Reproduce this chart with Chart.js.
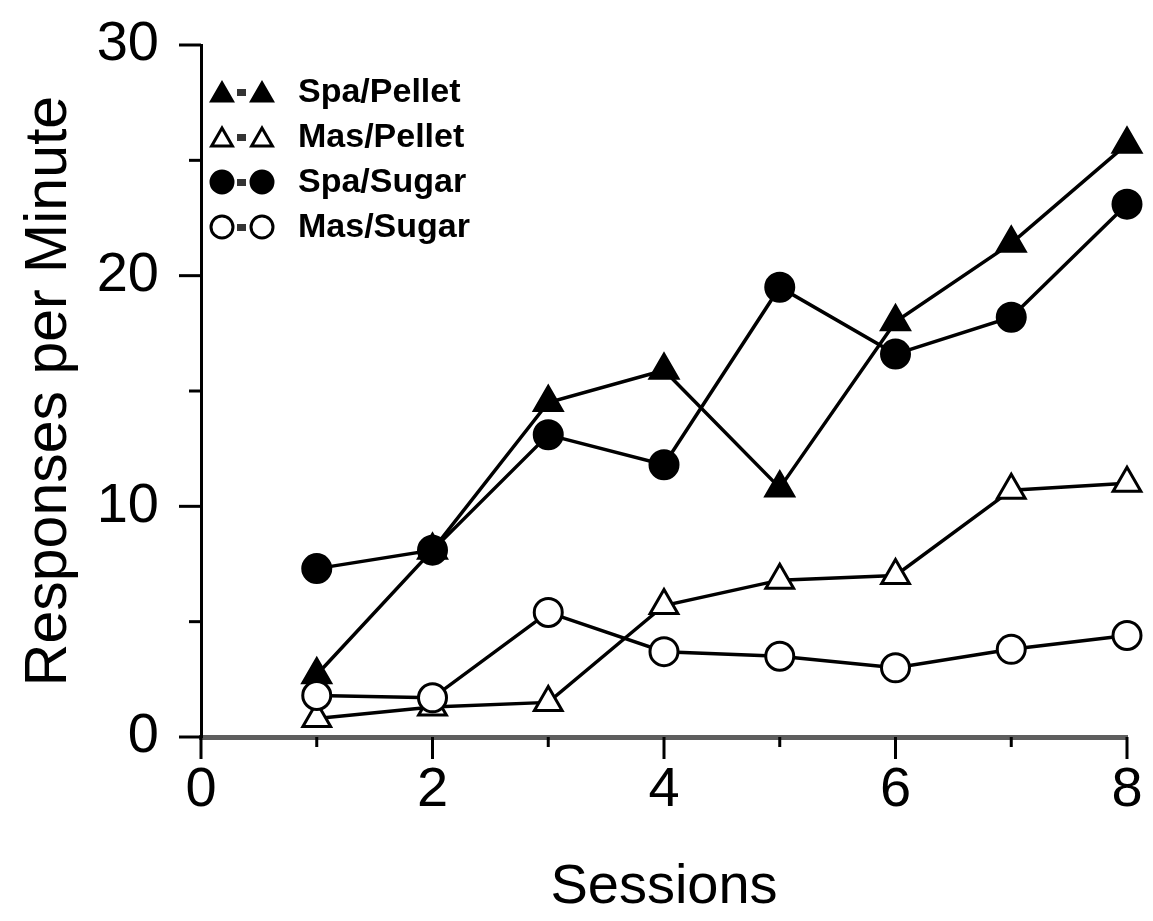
<!DOCTYPE html>
<html>
<head>
<meta charset="utf-8">
<script src="https://cdn.jsdelivr.net/npm/chart.js@4.4.0/dist/chart.umd.min.js"></script>
<style>
  html, body { margin: 0; padding: 0; background: #fff; }
  #wrap { width: 1153px; height: 921px; }
</style>
</head>
<body>
<div id="wrap"><canvas id="myChart"></canvas></div>
<script>
// values
const sessions = [1, 2, 3, 4, 5, 6, 7, 8];
const spaPellet = [2.7, 8.1, 14.5, 15.9, 10.8, 18.0, 21.4, 25.7];
const masPellet = [0.8, 1.3, 1.5, 5.7, 6.8, 7.0, 10.7, 11.0];
const spaSugar = [7.3, 8.1, 13.1, 11.8, 19.5, 16.6, 18.2, 23.1];
const masSugar = [1.8, 1.7, 5.4, 3.7, 3.5, 3.0, 3.8, 4.4];
const seriesNames = ['Spa/Pellet', 'Mas/Pellet', 'Spa/Sugar', 'Mas/Sugar'];
const xTickValues = [0, 1, 2, 3, 4, 5, 6, 7, 8];
const yTickValues = [0, 5, 10, 15, 20, 25, 30];

const FONT = "'Liberation Sans', Arial, sans-serif";

const toPoints = (vals) => sessions.map((s, i) => ({ x: s, y: vals[i] }));

function series(label, vals, style, filled, radius, order) {
    return {
        label: label,
        data: toPoints(vals),
        borderColor: '#000',
        borderWidth: 3.5,
        pointStyle: style,
        pointRadius: radius,
        pointHoverRadius: radius,
        pointBorderWidth: 3,
        pointBorderColor: '#000',
        pointBackgroundColor: filled ? '#000' : '#fff',
        tension: 0,
        clip: false,
        order: order
    };
}

const datasets = [
    series(seriesNames[0], spaPellet, 'triangle', true, 16, 3),
    series(seriesNames[1], masPellet, 'triangle', false, 16, 1),
    series(seriesNames[2], spaSugar, 'circle', true, 14, 2),
    series(seriesNames[3], masSugar, 'circle', false, 14, 0)
];

// tick marks: long at labelled values, short in between
const axisTicks = {
    id: 'axisTicks',
    afterDraw(chart) {
        const { ctx, scales: { x, y } } = chart;
        ctx.save();
        ctx.strokeStyle = '#000';
        ctx.lineWidth = 3;
        const left = x.getPixelForValue(0);
        const bottom = y.getPixelForValue(0);
        yTickValues.forEach(v => {
            const py = y.getPixelForValue(v);
            const len = v % 10 === 0 ? 22 : 12;
            ctx.beginPath();
            ctx.moveTo(left - len, py);
            ctx.lineTo(left, py);
            ctx.stroke();
        });
        xTickValues.forEach(v => {
            const px = x.getPixelForValue(v);
            const len = v % 2 === 0 ? 22 : 10;
            ctx.beginPath();
            ctx.moveTo(px, bottom);
            ctx.lineTo(px, bottom + len);
            ctx.stroke();
        });
        ctx.restore();
    }
};

// key in the upper left of the plot
const keyBox = {
    id: 'keyBox',
    afterDraw(chart) {
        const { ctx, chartArea } = chart;
        ctx.save();
        chart.data.datasets.forEach((ds, i) => {
            const cy = chartArea.top + 47 + i * 45;
            const x0 = chartArea.left + 21;
            const r = ds.pointStyle === 'triangle' ? 12 : 11;
            const opts = { pointStyle: ds.pointStyle, radius: r, borderWidth: 3, rotation: 0 };
            const dy = ds.pointStyle === 'triangle' ? 3 : 0;
            ctx.fillStyle = ds.pointBackgroundColor;
            ctx.strokeStyle = '#000';
            ctx.lineWidth = 3;
            Chart.helpers.drawPoint(ctx, opts, x0, cy + dy);
            ctx.fillStyle = '#333';
            ctx.fillRect(x0 + 15, cy - 3, 9, 7);
            ctx.fillStyle = ds.pointBackgroundColor;
            Chart.helpers.drawPoint(ctx, opts, x0 + 40, cy + dy);
            ctx.fillStyle = '#000';
            ctx.font = 'bold 34px ' + FONT;
            ctx.textAlign = 'left';
            ctx.textBaseline = 'middle';
            ctx.fillText(ds.label, x0 + 76, cy + 1);
        });
        ctx.restore();
    }
};

const config = {
    type: 'line',
    data: { datasets: datasets },
    options: {
        responsive: true,
        maintainAspectRatio: false,
        animation: false,
        layout: { padding: { left: 0, right: 26, top: 45, bottom: 0 } },
        plugins: {
            legend: { display: false },
            tooltip: { enabled: false }
        },
        scales: {
            x: {
                type: 'linear',
                min: 0,
                max: 8,
                afterFit: (scale) => {
                    scale.height = 184;
                    scale.paddingLeft = 0;
                    scale.paddingRight = 0;
                },
                grid: { display: false, drawTicks: false },
                border: { display: true, color: '#5e5e5e', width: 5 },
                ticks: {
                    stepSize: 2,
                    padding: 20,
                    color: '#000',
                    font: { family: FONT, size: 56 }
                },
                title: {
                    display: true,
                    text: 'Sessions',
                    color: '#000',
                    padding: { top: 0, bottom: 0 },
                    font: { family: FONT, size: 56 }
                }
            },
            y: {
                min: 0,
                max: 30,
                afterFit: (scale) => {
                    scale.width = 201;
                    scale.paddingTop = 0;
                    scale.paddingBottom = 0;
                },
                grid: { display: false, drawTicks: false },
                border: { display: true, color: '#000', width: 3 },
                ticks: {
                    stepSize: 10,
                    padding: 42,
                    color: '#000',
                    font: { family: FONT, size: 56 }
                },
                title: {
                    display: true,
                    text: 'Responses per Minute',
                    color: '#000',
                    padding: { top: 14, bottom: 0 },
                    font: { family: FONT, size: 59 }
                }
            }
        }
    },
    plugins: [axisTicks, keyBox]
};

const myChart = new Chart(document.getElementById('myChart'), config);
</script>
</body>
</html>
